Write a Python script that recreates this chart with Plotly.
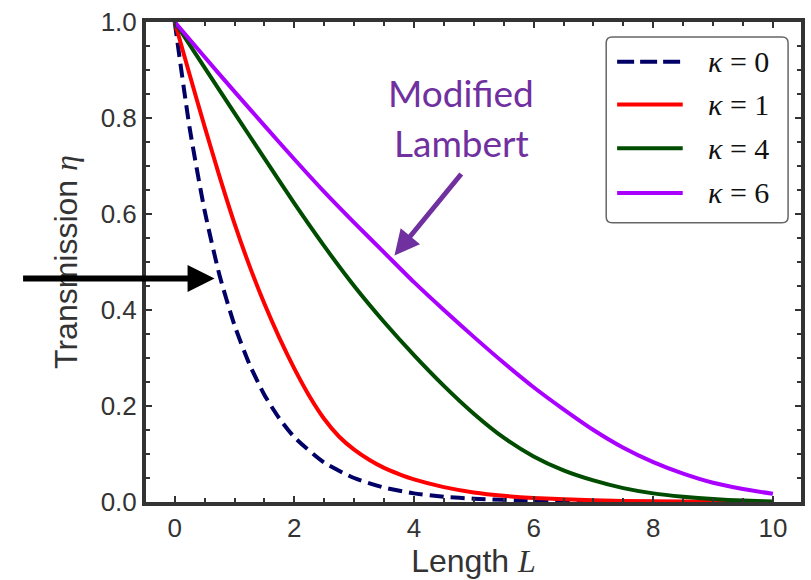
import plotly.graph_objects as go

# ---- data ----
x_k0 = [0, 0.25, 0.5, 0.75, 1, 1.25, 1.5, 1.75, 2, 2.5, 3, 3.5, 4, 4.5, 5, 6, 7, 8, 9, 10]
y_k0 = [1.0, 0.779, 0.607, 0.472, 0.368, 0.287, 0.223, 0.174, 0.135, 0.082, 0.050, 0.030,
        0.018, 0.011, 0.007, 0.0025, 0.001, 0.0003, 0.0001, 0.0]

x_k1 = [0, 0.25, 0.5, 0.75, 1, 1.25, 1.5, 1.75, 2, 2.25, 2.5, 2.75, 3, 3.25, 3.5, 3.75, 4,
        4.5, 5, 5.5, 6, 7, 8, 9, 10]
y_k1 = [1.0, 0.89, 0.782, 0.678, 0.58, 0.492, 0.413, 0.342, 0.278, 0.221, 0.173, 0.136,
        0.109, 0.088, 0.071, 0.058, 0.047, 0.031, 0.020, 0.013, 0.0085, 0.0035, 0.0014,
        0.0005, 0.0002]

x_k4 = [0, 0.5, 1, 1.5, 2, 2.5, 3, 3.5, 4, 4.5, 5, 5.5, 6, 6.5, 7, 7.5, 8, 8.5, 9, 9.5, 10]
y_k4 = [1.0, 0.905, 0.81, 0.716, 0.622, 0.533, 0.450, 0.375, 0.306, 0.242, 0.184, 0.134,
        0.095, 0.066, 0.045, 0.029, 0.018, 0.011, 0.006, 0.003, 0.001]

x_k6 = [0, 0.5, 1, 1.5, 2, 2.5, 3, 3.5, 4, 4.5, 5, 5.5, 6, 6.5, 7, 7.5, 8, 8.5, 9, 9.5, 10]
y_k6 = [1.0, 0.927, 0.855, 0.784, 0.714, 0.646, 0.582, 0.52, 0.458, 0.400, 0.344, 0.29,
        0.239, 0.193, 0.150, 0.113, 0.083, 0.059, 0.040, 0.027, 0.017]

series_names = ["κ = 0", "κ = 1", "κ = 4", "κ = 6"]
series_kappa = ["0", "1", "4", "6"]
series_colors = ["#000066", "#FF0000", "#004C00", "#AA00FF"]
series_dash = ["14px,7px", "solid", "solid", "solid"]
xs = [x_k0, x_k1, x_k4, x_k6]
ys = [y_k0, y_k1, y_k4, y_k6]

fig = go.Figure()
for x, y, c, d, n in zip(xs, ys, series_colors, series_dash, series_names):
    fig.add_trace(go.Scatter(x=x, y=y, mode="lines", name=n, showlegend=False,
                             line=dict(color=c, width=4, dash=d, shape="spline", smoothing=0.6)))

axis_color = "#333333"
tick_font = dict(family="Liberation Sans, Arial", size=26, color="#333333")
title_font = dict(family="Liberation Sans, Arial", size=32, color="#333333")

fig.update_xaxes(range=[-0.48, 10.47], tickmode="linear", tick0=0, dtick=2, ticks="inside",
                 ticklen=6, tickwidth=2, tickcolor=axis_color, showline=True, linewidth=4,
                 linecolor=axis_color, mirror="allticks", showgrid=False, zeroline=False,
                 tickfont=tick_font,
                 minor=dict(tick0=0, dtick=0.5, ticks="inside", ticklen=4, tickwidth=2,
                            tickcolor=axis_color, showgrid=False),
                 title=dict(text='Length <span style="font-family:Liberation Serif"><i>L</i></span>',
                            font=title_font, standoff=8))
fig.update_yaxes(range=[0, 1], tickmode="linear", tick0=0, dtick=0.2, tickformat=".1f",
                 ticks="inside", ticklen=6, tickwidth=2, tickcolor=axis_color, showline=True,
                 linewidth=4, linecolor=axis_color, mirror="allticks", showgrid=False,
                 zeroline=False, tickfont=tick_font,
                 minor=dict(tick0=0, dtick=0.05, ticks="inside", ticklen=4, tickwidth=2,
                            tickcolor=axis_color, showgrid=False),
                 title=dict(text='Transmission <span style="font-family:Liberation Serif"><i>η</i></span>',
                            font=title_font, standoff=14))

W, H = 811, 580
L_, R_, T_, B_ = 146, 6, 22, 75
pw, ph = W - L_ - R_, H - T_ - B_

def px2paper(px, py):
    return (px - L_) / pw, (H - B_ - py) / ph

# legend box (rounded)
x0, y0 = px2paper(609, 224)
x1, y1 = px2paper(792, 37)
r = 6
rx, ry = r / pw, r / ph
path = (f"M{x0+rx},{y0} L{x1-rx},{y0} Q{x1},{y0} {x1},{y0+ry} L{x1},{y1-ry} Q{x1},{y1} {x1-rx},{y1} "
        f"L{x0+rx},{y1} Q{x0},{y1} {x0},{y1-ry} L{x0},{y0+ry} Q{x0},{y0} {x0+rx},{y0} Z")
fig.add_shape(type="path", path=path, xref="paper", yref="paper",
              line=dict(color="#666666", width=1.5), fillcolor="white", layer="above")
leg_y = [62, 105, 149, 194]
for k, c, d, ly in zip(series_kappa, series_colors, series_dash, leg_y):
    lx0, lyp = px2paper(620, ly)
    lx1, _ = px2paper(686, ly)
    fig.add_shape(type="line", x0=lx0, x1=lx1, y0=lyp, y1=lyp, xref="paper", yref="paper",
                  line=dict(color=c, width=4, dash="17px,6px" if d != "solid" else "solid"),
                  layer="above")
    tx, _ = px2paper(709, ly)
    fig.add_annotation(x=tx, y=lyp, xref="paper", yref="paper", xanchor="left", yanchor="middle",
                       showarrow=False, text=f"<i>κ</i> = {k}",
                       font=dict(family="Liberation Serif", size=30, color="#111111"))

# black arrow
bx, by = px2paper(215, 280)
fig.add_annotation(x=bx, y=by, xref="paper", yref="paper", ax=-193, ay=0,
                   showarrow=True, arrowhead=2, arrowsize=0.9, arrowwidth=6,
                   arrowcolor="#000000", text="")

# purple arrow + label
pxp, pyp = px2paper(396, 257)
fig.add_annotation(x=pxp, y=pyp, xref="paper", yref="paper", ax=68, ay=-83,
                   showarrow=True, arrowhead=2, arrowsize=1.0, arrowwidth=5,
                   arrowcolor="#7030A0", text="")
for txt, cy in [("Modified", 93), ("Lambert", 143)]:
    ax_, ay_ = px2paper(463, cy)
    fig.add_annotation(x=ax_, y=ay_, xref="paper", yref="paper", showarrow=False, text=txt,
                       xanchor="center", yanchor="middle",
                       font=dict(family="Lato, Open Sans", size=37, color="#7030A0"))

fig.update_layout(width=W, height=H, margin=dict(l=L_, r=R_, t=T_, b=B_),
                  plot_bgcolor="white", paper_bgcolor="white", showlegend=False)

fig.write_html("out.html")
